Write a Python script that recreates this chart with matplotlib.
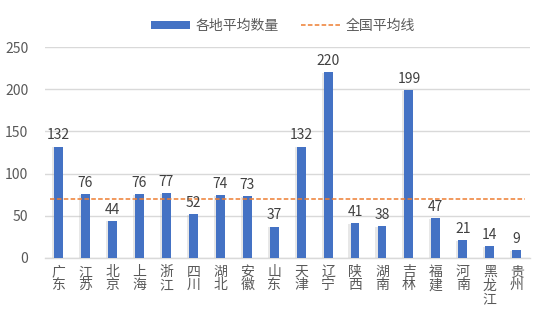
import matplotlib
matplotlib.use("Agg")
import matplotlib.pyplot as plt
import matplotlib.patheffects as pe
from matplotlib.lines import Line2D
from matplotlib.patches import Patch

plt.rcParams['font.family'] = ['Noto Sans CJK SC', 'DejaVu Sans']

regions = ["广东", "江苏", "北京", "上海", "浙江", "四川", "湖北", "安徽", "山东",
           "天津", "辽宁", "陕西", "湖南", "吉林", "福建", "河南", "黑龙江", "贵州"]
values = [132, 76, 44, 76, 77, 52, 74, 73, 37, 132, 220, 41, 38, 199, 47, 21, 14, 9]
national_avg = 70
yticks = [0, 50, 100, 150, 200, 250]
bar_label = "各地平均数量"
line_label = "全国平均线"

fig = plt.figure(figsize=(5.5, 3.2), dpi=100)
ax = fig.add_axes([0.082, 0.194, 0.882, 0.659])

x = list(range(len(regions)))
bars = ax.bar(x, values, width=0.33, color="#4472C4", zorder=3)
for b in bars:
    b.set_path_effects([pe.SimplePatchShadow(offset=(-1.5, -0.5), shadow_rgbFace="#BBBBBB", alpha=0.35), pe.Normal()])

ax.plot([-0.3, len(regions) - 1 + 0.3], [national_avg, national_avg], color="#ED7D31",
        linestyle=(0, (3, 1.5)), linewidth=1.1, zorder=4)

for xi, v in zip(x, values):
    ax.text(xi, v + 5, str(v), ha="center", va="bottom", fontsize=10, color="#404040", zorder=5)

ax.set_xlim(-0.5, len(regions) - 0.5)
ax.set_ylim(0, 250)
ax.set_yticks(yticks)
ax.set_yticklabels([str(t) for t in yticks], color="#595959", fontsize=10)
ax.set_xticks(x)
ax.set_xticklabels(["\n".join(r) for r in regions], color="#595959", fontsize=10,
                   linespacing=0.95, va="top")
ax.tick_params(axis="both", length=0, pad=5)
ax.tick_params(axis="y", pad=12)
ax.grid(axis="y", color="#D9D9D9", linewidth=1, zorder=0)
for s in ["top", "right", "left"]:
    ax.spines[s].set_visible(False)
ax.spines["bottom"].set_color("#D9D9D9")
ax.spines["bottom"].set_linewidth(1)

handles = [Patch(facecolor="#4472C4", label=bar_label),
           Line2D([0], [0], color="#ED7D31", linestyle=(0, (3, 1.5)), linewidth=1.1, label=line_label)]
fig.legend(handles=handles, loc="center", bbox_to_anchor=(0.515, 0.92), ncol=2, frameon=False,
           fontsize=10, labelcolor="#595959", handlelength=2.8, handleheight=0.5,
           columnspacing=1.6, handletextpad=0.4)

fig.savefig("out.png", dpi=100)
